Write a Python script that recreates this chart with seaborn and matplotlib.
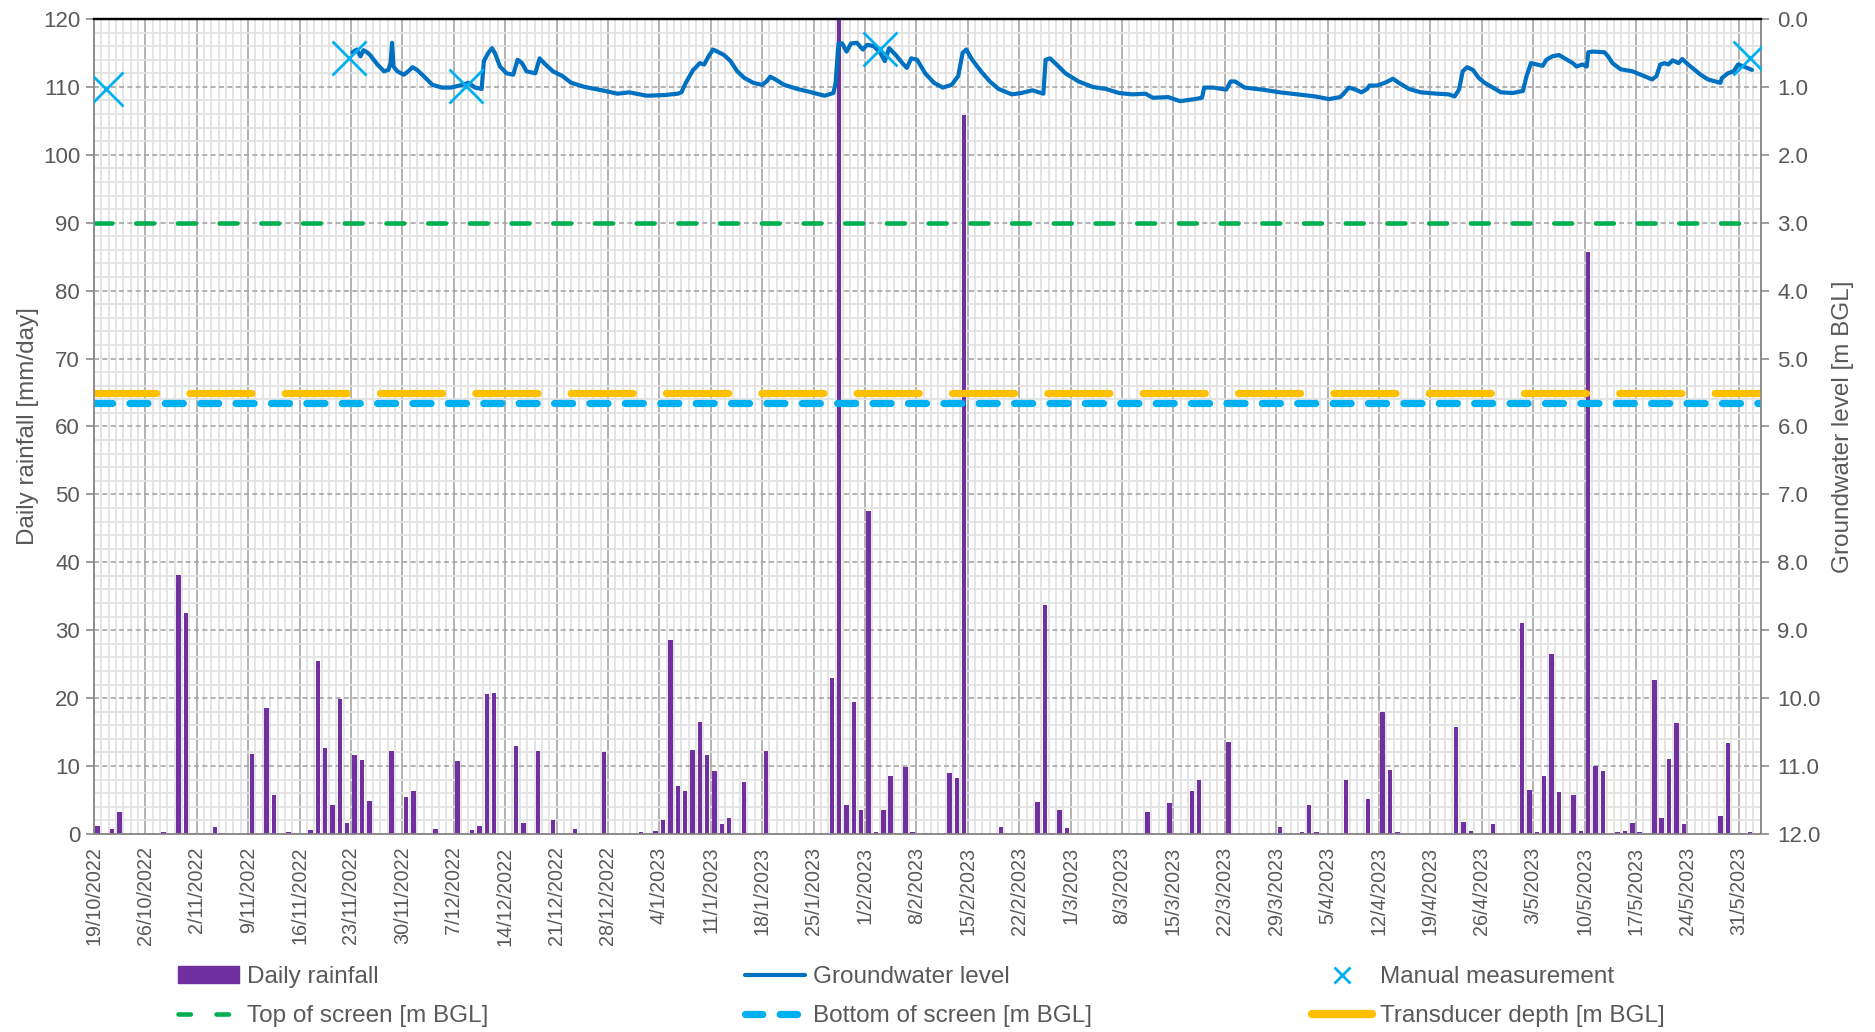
import pandas as pd
import numpy as np
import matplotlib
matplotlib.use("Agg")
import matplotlib.pyplot as plt
import matplotlib.dates as mdates
from matplotlib.lines import Line2D
from matplotlib.patches import Patch
from matplotlib.ticker import FixedLocator, MultipleLocator, FuncFormatter
import seaborn as sns

# ---- data ----
start = "2022-10-19"
end = "2023-06-03"

# daily rainfall [mm/day] (only days with rain)
rain_dates = [
    "2022-10-19", "2022-10-21", "2022-10-22", "2022-10-28", "2022-10-30", "2022-10-31",
    "2022-11-04", "2022-11-05", "2022-11-09", "2022-11-11", "2022-11-12", "2022-11-14",
    "2022-11-17", "2022-11-18", "2022-11-19", "2022-11-20", "2022-11-21", "2022-11-22",
    "2022-11-23", "2022-11-24", "2022-11-25", "2022-11-28", "2022-11-30", "2022-12-01",
    "2022-12-02", "2022-12-04", "2022-12-07", "2022-12-09", "2022-12-10", "2022-12-11",
    "2022-12-12", "2022-12-15", "2022-12-16", "2022-12-18", "2022-12-20", "2022-12-23",
    "2022-12-27", "2023-01-01", "2023-01-03", "2023-01-04", "2023-01-05", "2023-01-06",
    "2023-01-07", "2023-01-08", "2023-01-09", "2023-01-10", "2023-01-11", "2023-01-12",
    "2023-01-13", "2023-01-15", "2023-01-18", "2023-01-27", "2023-01-28", "2023-01-29",
    "2023-01-30", "2023-01-31", "2023-02-01", "2023-02-02", "2023-02-03", "2023-02-04",
    "2023-02-06", "2023-02-07", "2023-02-09", "2023-02-12", "2023-02-13", "2023-02-14",
    "2023-02-19", "2023-02-24", "2023-02-25", "2023-02-26", "2023-02-27", "2023-02-28",
    "2023-03-11", "2023-03-14", "2023-03-17", "2023-03-18", "2023-03-22", "2023-03-29",
    "2023-04-01", "2023-04-02", "2023-04-03", "2023-04-07", "2023-04-10", "2023-04-12",
    "2023-04-13", "2023-04-14", "2023-04-22", "2023-04-23", "2023-04-24", "2023-04-27",
    "2023-05-01", "2023-05-02", "2023-05-03", "2023-05-04", "2023-05-05", "2023-05-06",
    "2023-05-08", "2023-05-09", "2023-05-10", "2023-05-11", "2023-05-12", "2023-05-14",
    "2023-05-15", "2023-05-16", "2023-05-17", "2023-05-19", "2023-05-20", "2023-05-21",
    "2023-05-22", "2023-05-23", "2023-05-28", "2023-05-29", "2023-05-31", "2023-06-01",
]
rain_mm = [
    1.2, 0.8, 3.3, 0.3, 38.2, 32.6,
    1.0, 0.1, 11.8, 18.6, 5.7, 0.3,
    0.6, 25.4, 12.6, 4.2, 19.9, 1.6,
    11.6, 10.9, 4.8, 12.2, 5.4, 6.3,
    0.1, 0.8, 10.8, 0.6, 1.2, 20.6,
    20.8, 12.9, 1.6, 12.2, 2.0, 0.8,
    12.0, 0.3, 0.5, 2.0, 28.6, 7.1,
    6.3, 12.4, 16.5, 11.6, 9.2, 1.4,
    2.4, 7.7, 12.2, 22.9, 125.0, 4.3,
    19.4, 3.5, 47.5, 0.3, 3.6, 8.6,
    9.8, 0.3, 0.1, 9.0, 8.2, 105.9,
    1.0, 4.7, 33.7, 0.1, 3.5, 0.9,
    3.3, 4.5, 6.3, 7.9, 13.5, 1.0,
    0.3, 4.3, 0.3, 7.9, 5.1, 18.0,
    9.4, 0.3, 15.8, 1.8, 0.5, 1.5,
    31.0, 6.5, 0.3, 8.6, 26.5, 6.2,
    5.7, 0.5, 85.7, 10.0, 9.2, 0.3,
    0.5, 1.6, 0.3, 22.7, 2.4, 11.0,
    16.3, 1.5, 2.6, 13.4, 0.1, 0.3,
]

# groundwater level [m BGL], logger record (days since 19/10/2022)
gw_days = [
    35.2, 35.8, 36.3, 36.7, 37.2, 37.6, 38.6, 39.5, 40.1, 40.4, 40.6, 40.8, 41.3, 42.2,
    42.8, 43.4, 44.0, 44.9, 46.1, 47.4, 48.6, 49.8, 51.0, 51.9, 52.8, 53.1, 53.7, 54.2,
    54.6, 55.3, 56.2, 57.1, 57.7, 58.3, 58.9, 60.1, 60.7, 61.3, 62.5, 63.8, 65.0, 66.8,
    69.2, 71.3, 72.9, 75.3, 77.7, 79.5, 80.0, 80.6, 81.6, 81.9, 82.5, 83.1, 83.7, 84.3,
    84.9, 85.8, 86.7, 87.6, 88.6, 89.8, 91.0, 91.6, 92.1, 92.8, 94.0, 95.8, 97.7, 99.5,
    100.7, 101.0, 101.4, 101.9, 102.5, 103.1, 103.9, 104.7, 105.3, 106.2, 107.1, 107.7,
    108.3, 109.2, 110.1, 110.7, 111.3, 112.1, 113.2, 114.4, 115.6, 116.8, 117.7, 118.3,
    118.8, 119.6, 120.8, 122.0, 123.2, 125.0, 126.3, 127.8, 129.3, 129.6, 130.2, 131.1,
    132.3, 134.1, 136.0, 137.8, 139.6, 141.4, 143.2, 144.2, 146.3, 147.9, 149.9, 150.9,
    151.2, 152.4, 154.2, 154.8, 155.4, 156.7, 159.1, 161.5, 163.9, 166.3, 168.2, 169.7,
    170.1, 170.9, 171.8, 172.6, 173.4, 173.7, 174.7, 175.8, 176.9, 177.7, 179.1, 180.7,
    182.9, 184.5, 185.3, 185.9, 186.4, 187.0, 187.8, 188.6, 189.4, 190.5, 191.6, 193.2,
    194.6, 195.1, 195.7, 196.5, 197.3, 197.8, 198.6, 199.5, 200.3, 201.4, 201.9, 202.7,
    203.3, 203.5, 204.1, 205.7, 206.2, 206.8, 207.9, 209.5, 211.1, 212.2, 212.8, 213.3,
    213.9, 214.4, 215.0, 215.8, 216.3, 217.1, 218.8, 219.8, 221.5, 221.7, 222.5, 223.3,
    223.9, 224.7, 225.8,
]
gw_level = [
    0.49, 0.45, 0.55, 0.46, 0.49, 0.53, 0.67, 0.77, 0.75, 0.65, 0.35, 0.70, 0.77, 0.82,
    0.77, 0.71, 0.75, 0.84, 0.97, 1.01, 1.01, 0.98, 0.94, 1.01, 1.03, 0.62, 0.50, 0.43,
    0.50, 0.70, 0.80, 0.82, 0.60, 0.65, 0.77, 0.80, 0.58, 0.65, 0.77, 0.84, 0.94, 1.00,
    1.05, 1.10, 1.08, 1.13, 1.12, 1.10, 1.08, 0.94, 0.75, 0.72, 0.65, 0.67, 0.55, 0.45,
    0.48, 0.53, 0.62, 0.77, 0.87, 0.94, 0.97, 0.92, 0.85, 0.89, 0.97, 1.03, 1.08, 1.13,
    1.09, 0.94, 0.36, 0.36, 0.48, 0.36, 0.35, 0.45, 0.38, 0.40, 0.50, 0.62,
    0.43, 0.53, 0.65, 0.72, 0.58, 0.60, 0.80, 0.94, 1.01, 0.97, 0.84, 0.50,
    0.45, 0.60, 0.77, 0.92, 1.03, 1.11, 1.09, 1.05, 1.10, 0.60, 0.58, 0.67,
    0.80, 0.92, 1.00, 1.03, 1.09, 1.11, 1.10, 1.16, 1.15, 1.21, 1.18, 1.16,
    1.01, 1.01, 1.04, 0.92, 0.92, 1.01, 1.04, 1.08, 1.11, 1.14, 1.18, 1.15,
    1.11, 1.01, 1.04, 1.08, 1.03, 0.98, 0.98, 0.94, 0.88, 0.94, 1.03, 1.08,
    1.10, 1.11, 1.14, 1.04, 0.77, 0.71, 0.75, 0.87, 0.94, 1.01, 1.08, 1.09,
    1.06, 0.84, 0.65, 0.67, 0.69, 0.60, 0.55, 0.53, 0.58, 0.65, 0.70, 0.67,
    0.70, 0.49, 0.48, 0.49, 0.55, 0.65, 0.74, 0.77, 0.84, 0.89, 0.84, 0.67,
    0.65, 0.67, 0.61, 0.65, 0.59, 0.67, 0.82, 0.89, 0.94, 0.87, 0.80, 0.77,
    0.67, 0.70, 0.75,
]

# manual dip measurements [m BGL]
manual_days = [1.6, 34.7, 50.7, 107.0, 225.5]
manual_level = [1.03, 0.58, 0.98, 0.44, 0.58]

top_of_screen = 3.0      # m BGL
bottom_of_screen = 5.65  # m BGL
transducer_depth = 5.5   # m BGL

# ---- colours ----
c_rain = "#7030A0"
c_gw = "#0070C0"
c_manual = "#00B0F0"
c_top = "#00B050"
c_bottom = "#00B0F0"
c_trans = "#FFC000"
c_text = "#595959"

sns.set_style("white")
plt.rcParams["font.family"] = ["Liberation Sans", "DejaVu Sans"]

t0 = pd.Timestamp(start)
rain = pd.DataFrame({"date": pd.to_datetime(rain_dates), "rain": rain_mm})
gw = pd.DataFrame({"date": t0 + pd.to_timedelta(gw_days, unit="D"), "level": gw_level})
manual = pd.DataFrame({"date": t0 + pd.to_timedelta(manual_days, unit="D"), "level": manual_level})

fig = plt.figure(figsize=(18.75, 10.32), dpi=100)
ax = fig.add_axes([0.0501, 0.1919, 0.889, 0.7897])
ax2 = ax.twinx()

# rainfall bars, centred on each day
ax.bar(rain["date"] + pd.Timedelta(hours=12), rain["rain"], width=0.6, color=c_rain,
       linewidth=0, zorder=3)

# groundwater axis lines
ax2.axhline(top_of_screen, color=c_top, lw=3.3, dashes=(3.9, 5.2), dash_capstyle="round", zorder=2)
ax2.axhline(transducer_depth, color=c_trans, lw=5.2, dashes=(8.6, 4.6), dash_capstyle="round", zorder=2)
ax2.axhline(bottom_of_screen, color=c_bottom, lw=5.2, dashes=(2.5, 2.4), dash_capstyle="round", zorder=2)
sns.lineplot(data=gw, x="date", y="level", ax=ax2, color=c_gw, lw=3.0, sort=False, zorder=4)
sns.scatterplot(data=manual, x="date", y="level", ax=ax2, marker="x", s=600,
                color=c_manual, linewidth=2.0, zorder=5)

# ---- axes ----
xmin, xmax = pd.Timestamp(start), pd.Timestamp(end)
ax.set_xlim(xmin, xmax)
ax.set_ylim(0, 120)
ax2.set_ylim(12, 0)

weeks = pd.date_range(start, "2023-05-31", freq="7D")
days = pd.date_range(start, end, freq="D")
ax.xaxis.set_major_locator(FixedLocator(mdates.date2num(weeks)))
ax.xaxis.set_minor_locator(FixedLocator(mdates.date2num(days)))
ax.xaxis.set_major_formatter(FuncFormatter(
    lambda v, p: "{d.day}/{d.month}/{d.year}".format(d=mdates.num2date(v))))
ax.yaxis.set_major_locator(MultipleLocator(10))
ax.yaxis.set_minor_locator(MultipleLocator(2))
ax2.yaxis.set_major_locator(MultipleLocator(1))
ax2.yaxis.set_major_formatter(FuncFormatter(lambda v, p: f"{v:.1f}"))

ax.tick_params(axis="x", which="major", labelsize=14.2, colors=c_text, direction="out",
               length=6, width=1.2, color="#8C8C8C", rotation=90, pad=3)
ax.tick_params(axis="y", which="major", labelsize=16, colors=c_text, direction="out",
               length=6, width=1.2, color="#8C8C8C", pad=4)
ax.tick_params(which="minor", length=0)
ax2.tick_params(axis="y", which="major", labelsize=16, colors=c_text, direction="out",
                length=6, width=1.2, color="#8C8C8C", pad=6)
ax2.tick_params(which="minor", length=0)

ax.set_axisbelow(True)
ax.grid(which="minor", axis="both", color="#E2E2E2", lw=1.3)
ax.grid(which="major", axis="x", color="#A6A6A6", lw=1.2)
ax.grid(which="major", axis="y", color="#A6A6A6", lw=1.2, ls=(0, (3, 2)))
ax2.grid(False)

for a in (ax, ax2):
    for s in ("left", "right", "bottom"):
        a.spines[s].set_color("#8C8C8C")
        a.spines[s].set_linewidth(1.2)
    a.spines["top"].set_color("black")
    a.spines["top"].set_linewidth(1.6)

ax.set_xlabel("")
ax2.set_xlabel("")
ax.set_ylabel("Daily rainfall [mm/day]", fontsize=17.5, color=c_text, labelpad=3)
ax2.set_ylabel("Groundwater level [m BGL]", fontsize=17.5, color=c_text, labelpad=8)

# ---- legend: three evenly spaced columns ----
h_rain = Patch(facecolor=c_rain, edgecolor=c_rain)
h_top = Line2D([], [], color=c_top, lw=3.3, dashes=(2.7, 5.6), dash_capstyle="round")
h_gw = Line2D([], [], color=c_gw, lw=3.0)
h_bot = Line2D([], [], color=c_bottom, lw=5.2, dashes=(2.4, 2.4), dash_capstyle="round")
h_man = Line2D([], [], color=c_manual, lw=0, marker="x", markersize=11, markeredgewidth=2.0)
h_tr = Line2D([], [], color=c_trans, lw=6.0, solid_capstyle="round")

cols = [
    ([h_rain, h_top], ["Daily rainfall", "Top of screen [m BGL]"], 0.090),
    ([h_gw, h_bot], ["Groundwater level", "Bottom of screen [m BGL]"], 0.392),
    ([h_man, h_tr], ["Manual measurement", "Transducer depth [m BGL]"], 0.6943),
]
for handles, labels, x0 in cols:
    leg = fig.legend(handles, labels, loc="center left", bbox_to_anchor=(x0, 0.034),
                     frameon=False, fontsize=17.5, handlelength=2.5, handletextpad=0.3,
                     labelspacing=0.7, borderaxespad=0)
    for t in leg.get_texts():
        t.set_color(c_text)

fig.savefig("out.png", dpi=100)
